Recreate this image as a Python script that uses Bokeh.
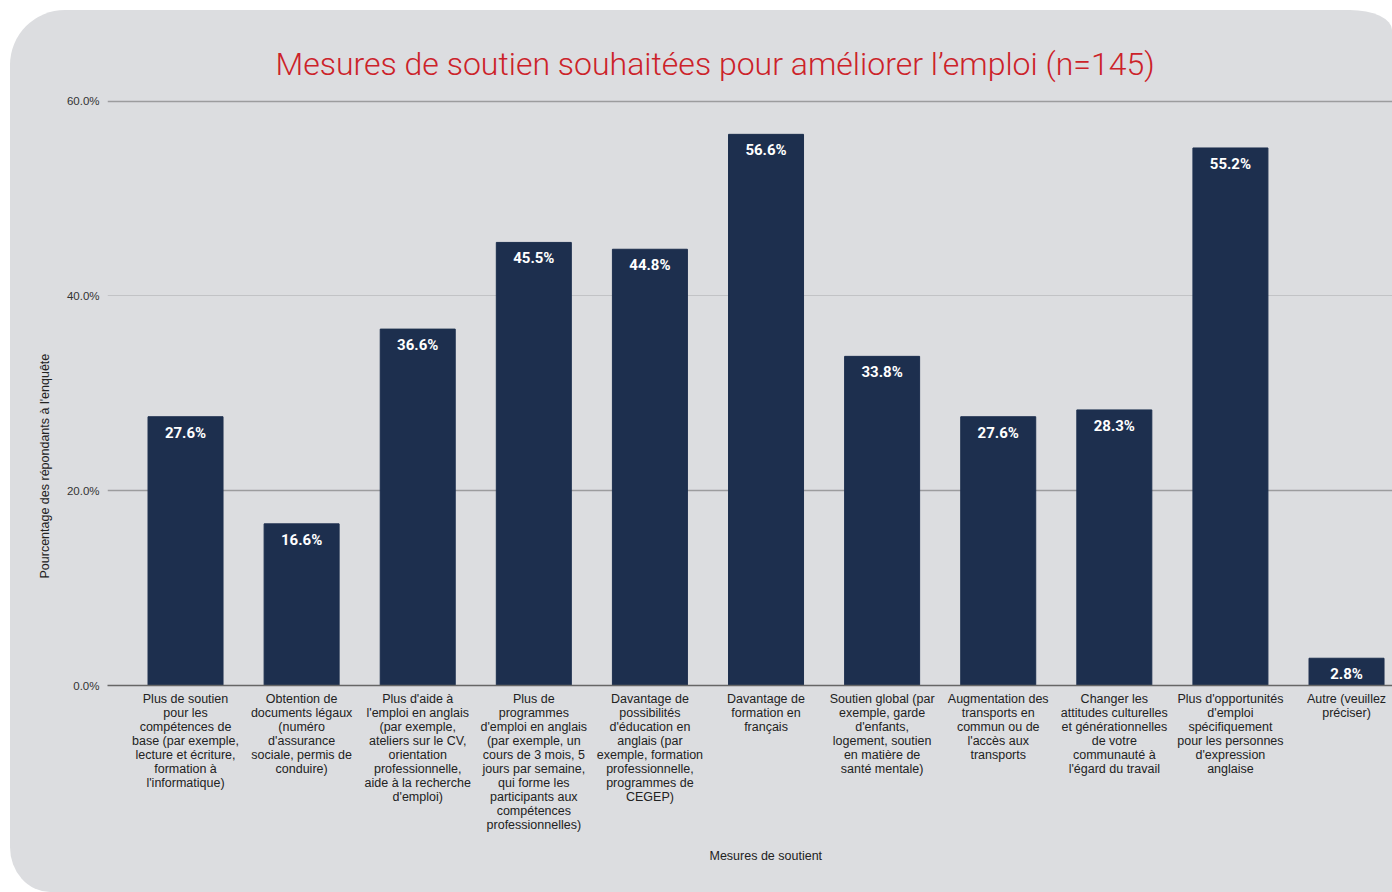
import math
from bokeh.plotting import figure
from bokeh.models import ColumnDataSource, FixedTicker, Grid, Range1d, Title
from bokeh.core.properties import value
from bokeh.embed import file_html
from bokeh.resources import INLINE

categories = [
    "Plus de soutien\npour les\ncompétences de\nbase (par exemple,\nlecture et écriture,\nformation à\nl'informatique)",
    "Obtention de\ndocuments légaux\n(numéro\nd'assurance\nsociale, permis de\nconduire)",
    "Plus d'aide à\nl'emploi en anglais\n(par exemple,\nateliers sur le CV,\norientation\nprofessionnelle,\naide à la recherche\nd'emploi)",
    "Plus de\nprogrammes\nd'emploi en anglais\n(par exemple, un\ncours de 3 mois, 5\njours par semaine,\nqui forme les\nparticipants aux\ncompétences\nprofessionnelles)",
    "Davantage de\npossibilités\nd'éducation en\nanglais (par\nexemple, formation\nprofessionnelle,\nprogrammes de\nCEGEP)",
    "Davantage de\nformation en\nfrançais",
    "Soutien global (par\nexemple, garde\nd'enfants,\nlogement, soutien\nen matière de\nsanté mentale)",
    "Augmentation des\ntransports en\ncommun ou de\nl'accès aux\ntransports",
    "Changer les\nattitudes culturelles\net générationnelles\nde votre\ncommunauté à\nl'égard du travail",
    "Plus d'opportunités\nd'emploi\nspécifiquement\npour les personnes\nd'expression\nanglaise",
    "Autre (veuillez\npréciser)",
]
values = [27.6, 16.6, 36.6, 45.5, 44.8, 56.6, 33.8, 27.6, 28.3, 55.2, 2.8]
y_ticks = [0, 20, 40, 60]
y_tick_labels = ["0.0%", "20.0%", "40.0%", "60.0%"]
title_text = "Mesures de soutien souhaitées pour améliorer l\u2019emploi (n=145)"
x_title = "Mesures de soutient"
y_title = "Pourcentage des répondants à l'enquête"

BG = "#dcdde0"
BAR = "#1d2f4e"
W, H = 1382, 882

xs = list(range(len(categories)))
src = ColumnDataSource(dict(x=xs, top=values, label=[f"{v:.1f}%" for v in values]))

p = figure(width=W, height=H, output_backend="svg", toolbar_location=None,
           x_range=Range1d(-0.672, 10.396), y_range=Range1d(0, 61),
           min_border_left=97, min_border_right=0, min_border_top=81, min_border_bottom=207,
           background_fill_color=None, border_fill_color=None, outline_line_color=None)
p.margin = (10, 0, 0, 10)
p.styles = {"background-color": BG,
            "border-radius": "55px 42px 0 40px / 55px 20px 0 45px"}

p.title.text = title_text
p.title.align = "left"
p.title.offset = 168
p.title.text_font = "Roboto Light"
p.title.text_font_style = "normal"
p.title.text_font_size = "32px"
p.title.text_color = "#cc2229"
p.title.standoff = 17

# grids
p.xgrid.visible = False
p.ygrid.ticker = FixedTicker(ticks=[20, 60])
p.ygrid.grid_line_color = "#9c9c9e"
p.ygrid.grid_line_width = 1.5
p.add_layout(Grid(dimension=1, ticker=FixedTicker(ticks=[40]),
                  grid_line_color="#c2c3c6", grid_line_width=1))

# y axis
p.yaxis.ticker = FixedTicker(ticks=y_ticks)
p.yaxis.major_label_overrides = dict(zip(y_ticks, y_tick_labels))
p.yaxis.axis_line_color = None
p.yaxis.major_tick_line_color = None
p.yaxis.major_tick_out = 0
p.yaxis.major_tick_in = 0
p.yaxis.minor_tick_line_color = None
p.yaxis.major_label_text_font = "Liberation Sans"
p.yaxis.major_label_text_font_size = "11.5px"
p.yaxis.major_label_text_color = "#333333"
p.yaxis.major_label_standoff = 8

# x axis
p.xaxis.ticker = FixedTicker(ticks=xs)
p.xaxis.major_label_overrides = dict(zip(xs, categories))
p.xaxis.axis_line_color = "#666666"
p.xaxis.axis_line_width = 1.5
p.xaxis.major_tick_line_color = None
p.xaxis.major_tick_out = 0
p.xaxis.major_tick_in = 0
p.xaxis.minor_tick_line_color = None
p.xaxis.major_label_text_font = "Liberation Sans"
p.xaxis.major_label_text_font_size = "12.5px"
p.xaxis.major_label_text_line_height = 1.0
p.xaxis.major_label_text_color = "#222222"
p.xaxis.major_label_standoff = 6

p.vbar(x="x", top="top", bottom=0, width=0.646, source=src,
       fill_color=BAR, line_color=BAR)
p.text(x="x", y="top", text="label", source=src, text_align="center",
       text_baseline="top", y_offset=7, text_color="white",
       text_font=value("Roboto"), text_font_style="bold", text_font_size="15px")

p.add_layout(Title(text=y_title, align="left", offset=107, standoff=24,
                   text_font="Liberation Sans", text_font_size="12.5px",
                   text_font_style="normal", text_color="#222222"), "left")
p.add_layout(Title(text=x_title, align="left", offset=602, standoff=24,
                   text_font="Liberation Sans", text_font_size="12.5px",
                   text_font_style="normal", text_color="#222222"), "below")

open("out.html", "w").write(file_html(p, INLINE))
